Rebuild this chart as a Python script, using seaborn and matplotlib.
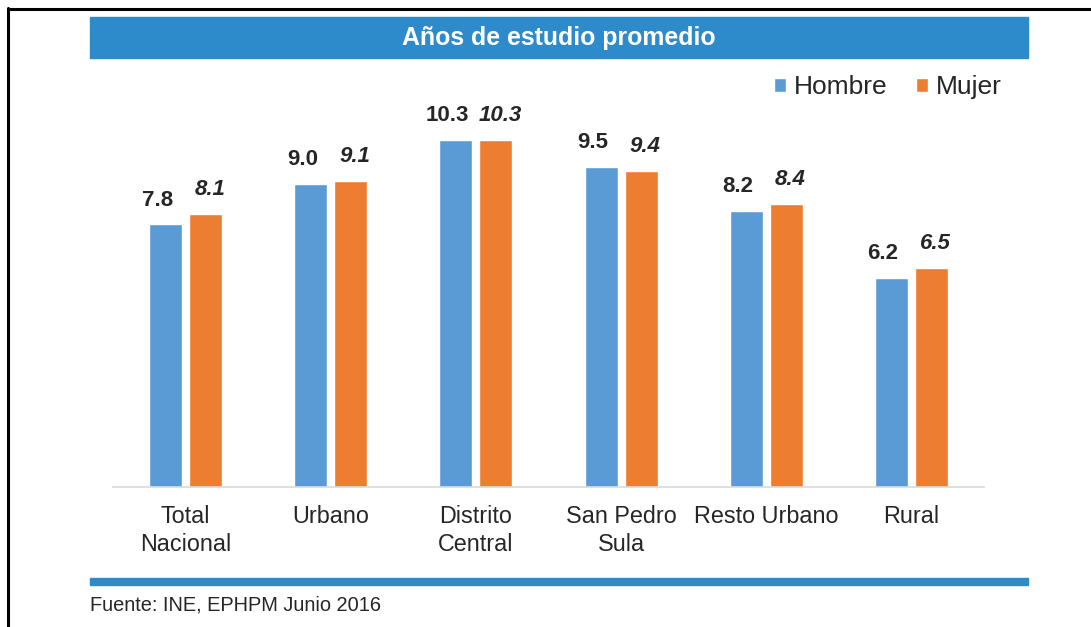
# plot.py
# Average years of schooling by region and sex (bar chart)

import numpy as np
import pandas as pd
import seaborn as sns
from matplotlib import pyplot as plt
from matplotlib.patches import Rectangle
from matplotlib.lines import Line2D

# data
categories = ['Total\nNacional', 'Urbano', 'Distrito\nCentral',
              'San Pedro\nSula', 'Resto Urbano', 'Rural']
hombre = [7.8, 9.0, 10.3, 9.5, 8.2, 6.2]
mujer  = [8.1, 9.1, 10.3, 9.4, 8.4, 6.5]
series = ['Hombre', 'Mujer']

title  = 'Años de estudio promedio'
source = 'Fuente: INE, EPHPM Junio 2016'

# colours
c_blue   = '#5B9BD5'
c_orange = '#ED7D31'
c_band   = '#2E8BCB'
c_text   = '#262626'

df = pd.DataFrame({
    'region': categories * 2,
    'sexo':   ['Hombre'] * len(categories) + ['Mujer'] * len(categories),
    'anios':  hombre + mujer,
})

sns.set_theme(style='white')
plt.rcParams['font.family'] = ['Liberation Sans', 'DejaVu Sans']

W, H = 1091, 627
fig = plt.figure(figsize=(W / 100, H / 100), dpi=100)

def fx(px): return px / W
def fy(py): return 1 - py / H

# main axes, positioned in pixels
ax_l, ax_r, ax_b, ax_t = 113, 984, 487, 83
ax = fig.add_axes([fx(ax_l), fy(ax_b), fx(ax_r - ax_l), (ax_b - ax_t) / H])

sns.barplot(data=df, x='region', y='anios', hue='sexo', order=categories,
            hue_order=series, palette=[c_blue, c_orange], width=0.55,
            gap=0.175, saturation=1, ax=ax, legend=True)

ax.set_xlim(-0.5, len(categories) - 0.5)
ax.set_ylim(0, 12)
ax.set_xlabel('')
ax.set_ylabel('')
ax.set_yticks([])
for s in ['left', 'right', 'top']:
    ax.spines[s].set_visible(False)
ax.spines['bottom'].set_color('#d9d9d9')
ax.spines['bottom'].set_linewidth(1.2)
ax.tick_params(axis='x', length=0, pad=13, labelsize=16.8, labelcolor=c_text)
for lbl in ax.get_xticklabels():
    lbl.set_linespacing(1.25)

# value labels
for cont, dx, style in [(ax.containers[0], -6, 'normal'),
                        (ax.containers[1], 3, 'italic')]:
    for bar in cont:
        h = bar.get_height()
        ax.annotate('%.1f' % h, (bar.get_x() + bar.get_width() / 2, h),
                    xytext=(dx, 10), textcoords='offset points',
                    ha='center', va='bottom', fontsize=16,
                    fontweight='bold', fontstyle=style, color=c_text)

# legend
handles, labels = ax.get_legend_handles_labels()
ax.legend(handles, labels, loc='center right',
          bbox_to_anchor=(fx(1015), fy(87)), bbox_transform=fig.transFigure,
          ncol=2, frameon=False, fontsize=19, handlelength=0.45,
          handleheight=0.45, handletextpad=0.3, columnspacing=1.1,
          labelcolor=c_text, borderpad=0)

# title band and bottom rule
fig.patches.append(Rectangle((fx(90), fy(58)), fx(1028 - 90), (58 - 17) / H,
                             transform=fig.transFigure, color=c_band, zorder=0))
fig.text(fx(559), fy(37.5), title, ha='center', va='center', fontsize=17.9,
         fontweight='bold', color='white')
fig.patches.append(Rectangle((fx(90), fy(585)), fx(1028 - 90), 7 / H,
                             transform=fig.transFigure, color=c_band, zorder=0))
fig.text(fx(90), fy(605), source, ha='left', va='center', fontsize=14.4,
         color=c_text)

# frame lines (left and top)
fig.lines.append(Line2D([fx(8), fx(8)], [fy(8), 0], transform=fig.transFigure,
                        color='black', linewidth=2.2))
fig.lines.append(Line2D([fx(8), 1], [fy(9), fy(9)], transform=fig.transFigure,
                        color='black', linewidth=2.2))

plt.savefig('out.png', dpi=100)
plt.close()
